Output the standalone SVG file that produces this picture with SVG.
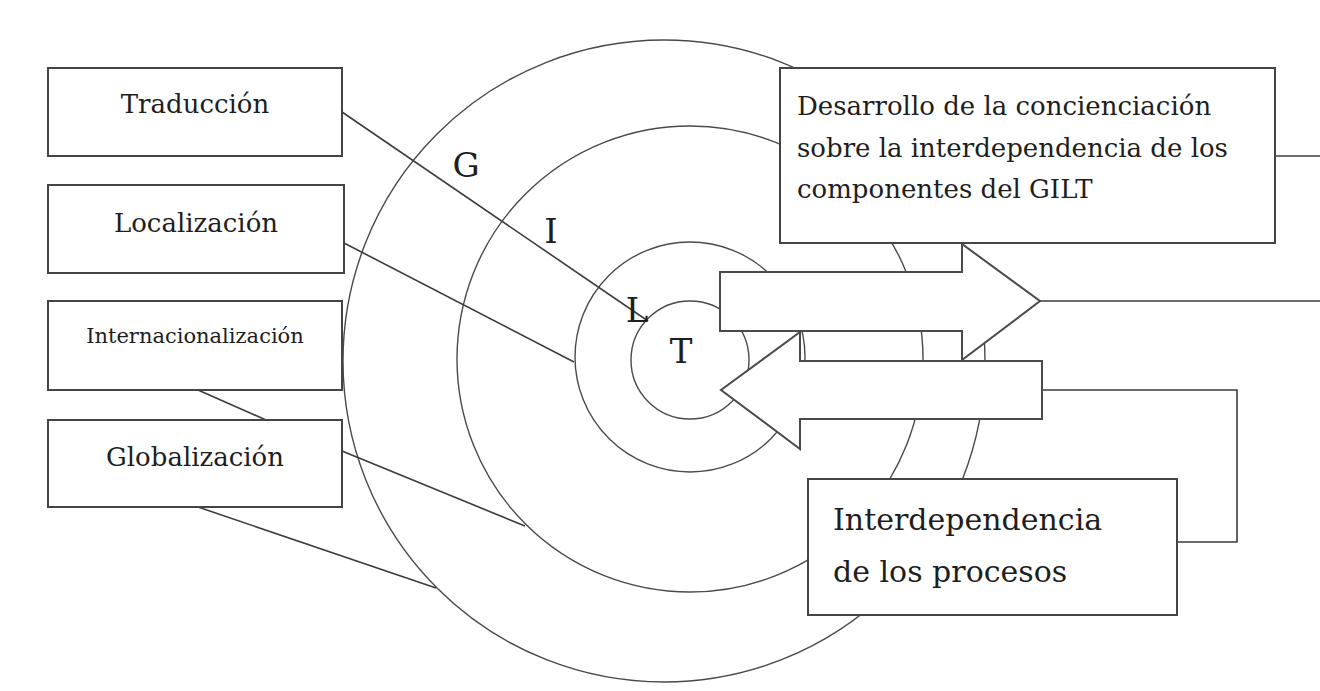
<svg xmlns="http://www.w3.org/2000/svg" width="1320" height="691" viewBox="0 0 1320 691">
<style>
.ring{fill:none;stroke:#4a4a4a;stroke-width:1.4}
.box{fill:#fff;stroke:#444;stroke-width:2}
.arrow{fill:#fff;stroke:#4a4a4a;stroke-width:2}
.ln{fill:none;stroke:#3c3c3c;stroke-width:1.6}
.t{font-family:"DejaVu Serif","Liberation Serif",serif;fill:#1e1e1e}
.lbl{font-size:26px;text-anchor:middle}
.big{font-size:34px;text-anchor:middle}
</style>
<rect width="1320" height="691" fill="#fff"/>
<g id="ring-G"><circle class="ring" cx="664" cy="361" r="321"/></g>
<g id="ring-I"><circle class="ring" cx="690" cy="359" r="233"/></g>
<g id="ring-L"><circle class="ring" cx="690" cy="357" r="115"/></g>
<g id="ring-T"><circle class="ring" cx="690" cy="360" r="59"/></g>
<g id="connectors">
<line class="ln" x1="342" y1="112" x2="648" y2="321"/>
<line class="ln" x1="344" y1="243" x2="574" y2="362"/>
<line class="ln" x1="198" y1="390" x2="266" y2="420"/>
<line class="ln" x1="342" y1="451" x2="525" y2="526"/>
<line class="ln" x1="198" y1="507" x2="436" y2="588"/>
<line class="ln" x1="1275" y1="156" x2="1320" y2="156"/>
<line class="ln" x1="1040" y1="301" x2="1320" y2="301"/>
<polyline class="ln" points="1042,390 1237,390 1237,542 1177,542"/>
</g>
<g id="traduccion"><rect class="box" x="48" y="68" width="294" height="88"/><text class="t lbl" x="195" y="113">Traducción</text></g>
<g id="localizacion"><rect class="box" x="48" y="185" width="296" height="88"/><text class="t lbl" x="196" y="232">Localización</text></g>
<g id="internacionalizacion"><rect class="box" x="48" y="301" width="294" height="89"/><text class="t" x="195" y="343" font-size="21" text-anchor="middle">Internacionalización</text></g>
<g id="globalizacion"><rect class="box" x="48" y="420" width="294" height="87"/><text class="t lbl" x="195" y="466">Globalización</text></g>
<g id="desarrollo"><rect class="box" x="780" y="68" width="495" height="175"/>
<text class="t" font-size="26"><tspan x="797" y="115">Desarrollo de la concienciación</tspan><tspan x="797" y="157">sobre la interdependencia de los</tspan><tspan x="797" y="198">componentes del GILT</tspan></text></g>
<g id="interdependencia"><rect class="box" x="808" y="479" width="369" height="136"/>
<text class="t" font-size="30"><tspan x="833" y="530">Interdependencia</tspan><tspan x="833" y="582">de los procesos</tspan></text></g>
<g id="arrow-right"><polygon class="arrow" points="720,272 962,272 962,244 1040,301 962,360 962,331 720,331"/></g>
<g id="arrow-left"><polygon class="arrow" points="1042,361 800,361 800,332 721,390 800,449 800,419 1042,419"/></g>
<g id="letters">
<text class="t big" x="466" y="177">G</text>
<text class="t big" x="551" y="243">I</text>
<text class="t big" x="637" y="322">L</text>
<text class="t big" x="681" y="363">T</text>
</g>
</svg>
